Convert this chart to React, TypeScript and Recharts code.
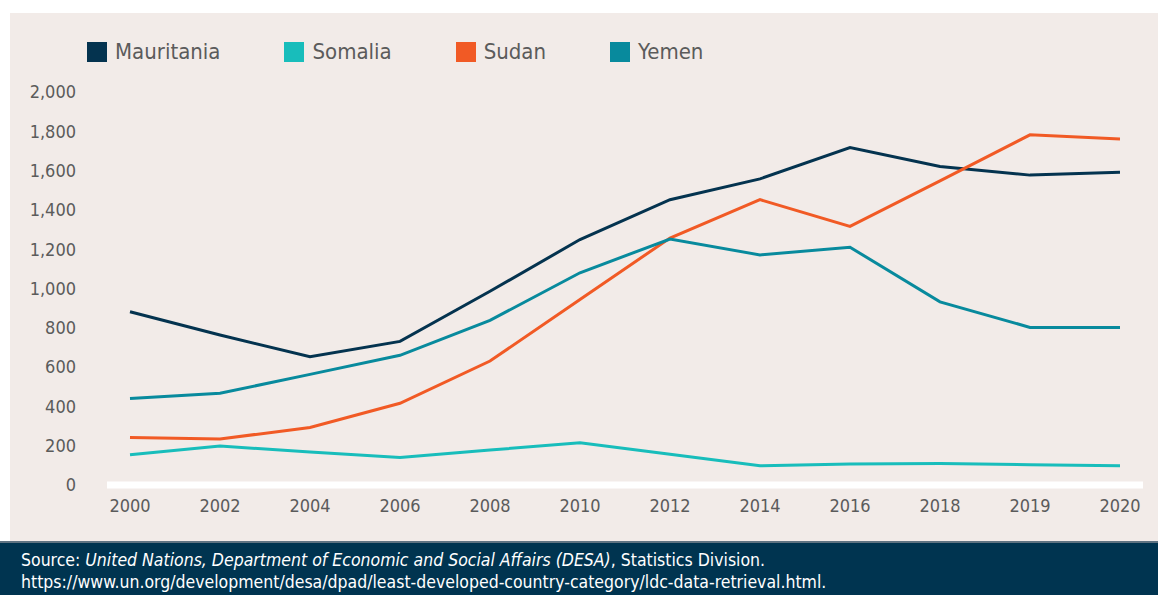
import { LineChart, Line, XAxis, YAxis } from 'recharts';

const years = ['2000', '2002', '2004', '2006', '2008', '2010', '2012', '2014', '2016', '2018', '2019', '2020'];
const mauritania = [882, 763, 653, 731, 986, 1249, 1452, 1558, 1717, 1621, 1577, 1592];
const somalia = [154, 198, 168, 140, 178, 215, 157, 98, 107, 110, 103, 98];
const sudan = [242, 234, 293, 416, 631, 944, 1257, 1452, 1316, 1548, 1782, 1761];
const yemen = [440, 467, 563, 660, 838, 1080, 1252, 1171, 1210, 932, 802, 802];
const yTicks = [0, 200, 400, 600, 800, 1000, 1200, 1400, 1600, 1800, 2000];

const series = [
  { key: 'Mauritania', color: '#04334f' },
  { key: 'Somalia', color: '#18bdbb' },
  { key: 'Sudan', color: '#f15a25' },
  { key: 'Yemen', color: '#088a9d' },
];

const chartData = years.map((year, i) => ({
  year,
  Mauritania: mauritania[i],
  Somalia: somalia[i],
  Sudan: sudan[i],
  Yemen: yemen[i],
}));

const FONT = '"Liberation Sans Narrow", "DejaVu Sans Condensed", Roboto, sans-serif';
const TEXT = '#5b5b5b';

const ChartLegend = () => (
  <div style={{ position: 'absolute', left: 87, top: 42, display: 'flex', alignItems: 'center', gap: 64 }}>
    {series.map((s) => (
      <div key={s.key} style={{ display: 'flex', alignItems: 'center' }}>
        <span style={{ width: 20, height: 20, background: s.color, display: 'inline-block', marginRight: 8 }} />
        <span style={{ fontSize: 22, color: TEXT, lineHeight: '20px' }}>{s.key}</span>
      </div>
    ))}
  </div>
);

export default function App() {
  return (
    <div style={{ position: 'absolute', left: 0, top: 0, width: 1158, height: 595, background: '#fff', fontFamily: FONT, overflow: 'hidden' }}>
      <div style={{ position: 'absolute', left: 10, top: 13, width: 1148, height: 528, background: '#f2ebe8' }} />
      <div style={{ position: 'absolute', left: 0, top: 0 }}>
        <LineChart width={1158} height={540} data={chartData} margin={{ top: 92, right: 15, left: 0, bottom: 15 }}>
          <XAxis
            dataKey="year"
            padding={{ left: 23, right: 23 }}
            axisLine={{ stroke: '#ffffff', strokeWidth: 7 }}
            tickLine={false}
            tickSize={0}
            tickMargin={14}
            height={40}
            interval={0}
            tick={{ fill: TEXT, fontSize: 18, fontFamily: FONT }}
          />
          <YAxis
            domain={[0, 2000]}
            ticks={yTicks}
            width={107}
            axisLine={false}
            tickLine={false}
            tickSize={0}
            tickMargin={31}
            tickFormatter={(v: number) => v.toLocaleString('en-US')}
            tick={{ fill: TEXT, fontSize: 18, fontFamily: FONT }}
          />
          {series.map((s) => (
            <Line
              key={s.key}
              type="linear"
              dataKey={s.key}
              stroke={s.color}
              strokeWidth={3}
              dot={false}
              isAnimationActive={false}
            />
          ))}
        </LineChart>
      </div>
      <ChartLegend />
      <div style={{ position: 'absolute', left: 0, top: 541, width: 1158, height: 2, background: '#5f7382' }} />
      <div style={{ position: 'absolute', left: 0, top: 543, width: 1158, height: 52, background: '#003450', color: '#ffffff', fontSize: 17.5, lineHeight: '22px', padding: '6px 0 0 21px', boxSizing: 'border-box' }}>
        <div>
          Source: <i>United Nations, Department of Economic and Social Affairs (DESA)</i>, Statistics Division.
        </div>
        <div>https://www.un.org/development/desa/dpad/least-developed-country-category/ldc-data-retrieval.html.</div>
      </div>
    </div>
  );
}
